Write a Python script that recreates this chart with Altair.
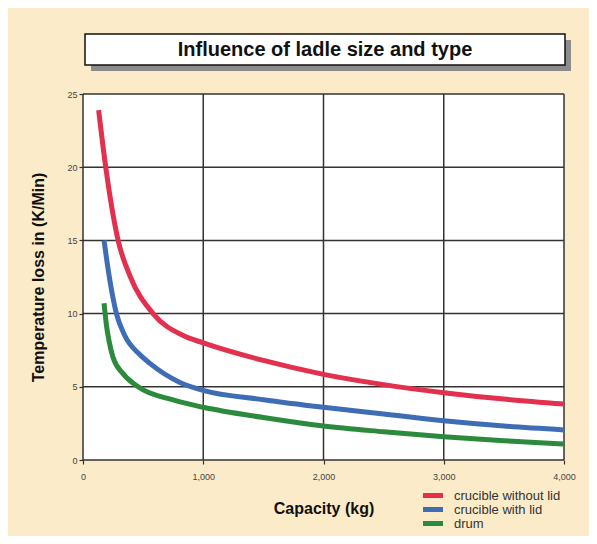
import altair as alt
import pandas as pd

# ---- data ----
series_names = ["crucible without lid", "crucible with lid", "drum"]
series_colors = ["#E3304F", "#3F6DB5", "#2B8A3C"]

red_cap = [130, 189, 292, 389, 583, 833, 1000, 1500, 2000, 2500, 3000, 3500, 4000]
red_temp = [23.9, 20.0, 15.0, 12.6, 10.0, 8.5, 8.0, 6.8, 5.85, 5.15, 4.6, 4.16, 3.82]

blue_cap = [175, 217, 278, 347, 472, 556, 806, 1000, 1500, 2000, 2500, 3000, 3500, 4000]
blue_temp = [15.0, 12.6, 10.0, 8.5, 7.2, 6.6, 5.3, 4.75, 4.12, 3.6, 3.14, 2.68, 2.32, 2.05]

green_cap = [175, 195, 215, 250, 333, 458, 750, 1000, 1500, 2000, 2500, 3000, 3500, 4000]
green_temp = [10.7, 9.2, 8.2, 7.0, 5.9, 5.0, 4.1, 3.6, 2.9, 2.32, 1.93, 1.59, 1.32, 1.09]

x_ticks = [0, 1000, 2000, 3000, 4000]
y_ticks = [0, 5, 10, 15, 20, 25]

title_text = "Influence of ladle size and type"
x_title = "Capacity (kg)"
y_title = "Temperature loss in (K/Min)"

rows = []
for name, caps, temps in zip(series_names, [red_cap, blue_cap, green_cap],
                             [red_temp, blue_temp, green_temp]):
    for c, t in zip(caps, temps):
        rows.append({"series": name, "cap": c, "temp": t})
df = pd.DataFrame(rows)
legend_df = pd.DataFrame({"series": series_names, "row": list(range(len(series_names)))})

FONT = "Liberation Sans"
W, H = 481, 366
CREAM = "#FCEBC8"

x_scale = alt.Scale(domain=[0, 4000], nice=False, zero=False)
y_scale = alt.Scale(domain=[0, 25], nice=False, zero=False)
color_scale = alt.Scale(domain=series_names, range=series_colors)

x_axis = alt.Axis(values=x_ticks, format=",d", domain=False, grid=False,
                  ticks=True, tickSize=4, tickColor="#333", tickWidth=1.2,
                  labelFontSize=9, labelColor="#444", labelFont=FONT,
                  labelPadding=8, labelFlush=False, labelOverlap=False,
                  title=x_title, titleFontSize=16, titleFont=FONT,
                  titleFontWeight="bold", titleColor="#111",
                  titleY=48, titleBaseline="middle", zindex=1)
y_axis = alt.Axis(values=y_ticks, domain=False, grid=False,
                  ticks=True, tickSize=4, tickColor="#333", tickWidth=1.2,
                  labelFontSize=9, labelColor="#444", labelFont=FONT,
                  labelPadding=2, labelOverlap=False,
                  title=y_title, titleFontSize=16, titleFont=FONT,
                  titleFontWeight="bold", titleColor="#111",
                  titleX=-45, titleBaseline="middle", zindex=1)

X = alt.X("cap:Q", scale=x_scale, axis=x_axis)
Y = alt.Y("temp:Q", scale=y_scale, axis=y_axis)

one = pd.DataFrame({"a": [0]})

def box(x1, x2, y1, y2, **kw):
    return alt.Chart(one).mark_rect(**kw).encode(
        x=alt.value(x1), x2=alt.value(x2), y=alt.value(y1), y2=alt.value(y2))

panel = box(-77, 510, -86, 450, color=CREAM)
title_shadow = box(8, 488, -54, -23, color="#8c8c8c")
title_box = box(2, 482, -60, -29, fill="white", stroke="#111", strokeWidth=1.5)
title_mark = alt.Chart(one).mark_text(
    font=FONT, fontSize=20, fontWeight="bold", color="#111",
    align="center", baseline="middle").encode(
    x=alt.value(242), y=alt.value(-44), text=alt.value(title_text))
plot_bg = box(0, W, 0, H, color="white")

vgrid = alt.Chart(pd.DataFrame({"cap": x_ticks})).mark_rule(
    color="#333", strokeWidth=1.5).encode(x=X)
hgrid = alt.Chart(pd.DataFrame({"temp": y_ticks})).mark_rule(
    color="#333", strokeWidth=1.5).encode(y=Y)

lines = alt.Chart(df).mark_line(strokeWidth=5, interpolate="monotone").encode(
    x=X, y=Y,
    color=alt.Color("series:N", scale=color_scale, sort=series_names, legend=None),
)

main = alt.layer(panel, title_shadow, title_box, title_mark,
                 plot_bg, vgrid, hgrid, lines)

# hand-made legend, bottom right, below the plot
row_y = alt.Y("row:Q", axis=None,
              scale=alt.Scale(domain=[0, len(series_names) - 1], range=[401.5, 429.5]))
leg_sym = alt.Chart(legend_df).mark_rule(strokeWidth=5).encode(
    x=alt.value(340), x2=alt.value(360), y=row_y,
    color=alt.Color("series:N", scale=color_scale, sort=series_names, legend=None))
leg_txt = alt.Chart(legend_df).mark_text(
    align="left", baseline="middle", font=FONT, fontSize=13, color="#333").encode(
    x=alt.value(371), y=row_y, text="series:N")
legend = alt.layer(leg_sym, leg_txt)

chart = alt.layer(main, legend).resolve_scale(y="independent").properties(
    width=W, height=H,
    padding={"left": 75, "top": 86, "right": 25, "bottom": 76},
    autosize=alt.AutoSizeParams(type="none"),
    background="white",
).configure_view(stroke=None)

chart.save("out.html", embed_options={"renderer": "svg", "actions": False})
